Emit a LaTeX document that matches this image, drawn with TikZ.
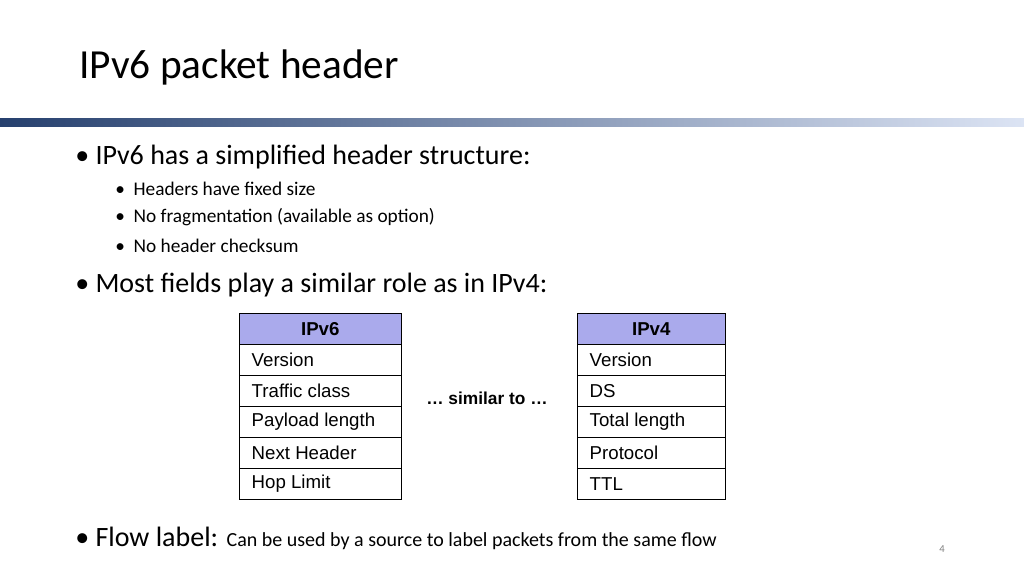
\documentclass[tikz,border=0pt]{standalone}
\usepackage{fontspec}
\setmainfont{Carlito}
\newfontfamily\arialfont{Liberation Sans}
\definecolor{hdrfill}{RGB}{170,170,236}
\definecolor{bardark}{RGB}{38,64,110}
\definecolor{barlight}{RGB}{220,228,244}
\tikzset{
  cell/.style={draw, minimum width=#1, minimum height=31*0.75pt, anchor=north west, inner sep=0pt},
  celltext/.style={anchor=west, font=\arialfont\fontsize{14}{16}\selectfont},
  bulletA/.style={anchor=west, font=\fontsize{21}{24}\selectfont, inner sep=0pt},
  bulletB/.style={anchor=west, font=\fontsize{14.5}{17}\selectfont, inner sep=0pt}
}
\begin{document}
\begin{tikzpicture}[x=0.75pt,y=0.75pt,yscale=-1,xscale=1]
\useasboundingbox (0,0) rectangle (1024,576);

% title and bar
\node[anchor=west, inner sep=0pt, font=\fontsize{31}{36}\selectfont] (title) at (79,67) {IPv6 packet header};
\shade[left color=bardark, right color=barlight] (0,118) rectangle (1024,126);

% bullets
\node[bulletA] (b1) at (75,157) {\textbullet\ IPv6 has a simplified header structure:};
\node[bulletB] (b1a) at (115,189) {\textbullet\ \ Headers have fixed size};
\node[bulletB] (b1b) at (115,217) {\textbullet\ \ No fragmentation (available as option)};
\node[bulletB] (b1c) at (115,246) {\textbullet\ \ No header checksum};
\node[bulletA] (b2) at (75,285) {\textbullet\ Most fields play a similar role as in IPv4:};
\node[anchor=west, inner sep=0pt] (b3) at (75,538) {\fontsize{21}{24}\selectfont\textbullet\ Flow label: \fontsize{15}{18}\selectfont Can be used by a source to label packets from the same flow};
\node[font=\fontsize{8}{10}\selectfont, text=gray] (pg) at (942,549) {4};

% tables
\node[cell=162*0.75pt, fill=hdrfill] (six0) at (239,313) {};
\node[font=\arialfont\bfseries\fontsize{14}{16}\selectfont] at (six0) {IPv6};
\node[cell=148*0.75pt, fill=hdrfill] (four0) at (577,313) {};
\node[font=\arialfont\bfseries\fontsize{14}{16}\selectfont] at (four0) {IPv4};
\foreach \i/\a/\b in {1/Version/Version, 2/Traffic class/DS, 3/Payload length/Total length, 4/Next Header/Protocol, 5/Hop Limit/TTL} {
  \node[cell=162*0.75pt] (six\i) at (239,313+\i*31) {};
  \node[celltext] at ([xshift=6pt]six\i.west) {\a};
  \node[cell=148*0.75pt] (four\i) at (577,313+\i*31) {};
  \node[celltext] at ([xshift=6pt]four\i.west) {\b};
}
\node[font=\arialfont\bfseries\fontsize{13}{15}\selectfont] (sim) at (487,398) {\dots\ similar to \dots};
\end{tikzpicture}
\end{document}
